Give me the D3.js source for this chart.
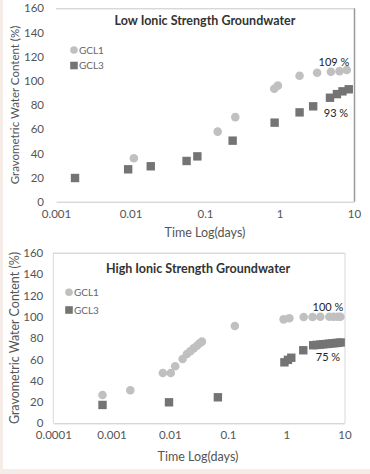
<!DOCTYPE html>
<html><head><meta charset="utf-8">
<script src="https://cdn.jsdelivr.net/npm/d3@7"></script>
<style>
html,body{margin:0;padding:0;background:#f5ece8;}
svg{display:block;}
text{font-family:Lato,"Open Sans",sans-serif;}
</style></head>
<body>
<svg id="c" width="370" height="474"></svg>
<script>
// ---- Data: Low ionic strength ----
const lowGCL1Days = [0.0111, 0.148, 0.255, 0.85, 0.95, 1.86, 3.2, 4.9, 6.4, 8.0];
const lowGCL1Wc   = [36, 58, 70, 93.5, 96, 104.2, 106.7, 107.5, 108, 108.9];
const lowGCL3Days = [0.0018, 0.0093, 0.0187, 0.0566, 0.079, 0.235, 0.86, 1.86, 2.83, 4.76, 5.9, 7.0, 8.5];
const lowGCL3Wc   = [19.6, 26.8, 29.3, 33.7, 37.5, 50.5, 65.4, 73.9, 78.9, 86, 89, 91.3, 93];
const lowTicks = [0.001, 0.01, 0.1, 1, 10];
const lowTickLabels = ["0.001", "0.01", "0.1", "1", "10"];

// ---- Data: High ionic strength ----
const highGCL1Days = [0.0007, 0.0021, 0.0076, 0.0104, 0.0124, 0.0166, 0.0197, 0.0225, 0.0257, 0.0292, 0.0325, 0.0356, 0.131, 0.9, 1.13, 1.99, 2.83, 3.84, 5.5, 6.5, 7.6, 8.5];
const highGCL1Wc   = [26.5, 31, 47.2, 47.2, 53.5, 60.3, 65, 67.5, 70.3, 72.8, 75, 76.6, 91.3, 97.5, 98.5, 99.7, 99.7, 100, 100, 100, 100, 100];
const highGCL3Days = [0.0007, 0.0097, 0.067, 0.93, 1.07, 1.22, 1.96, 2.9, 3.3, 3.8, 4.3, 4.9, 5.5, 6.2, 6.9, 7.7, 8.6];
const highGCL3Wc   = [17.2, 19.7, 24.4, 57.2, 59.5, 61.5, 68.5, 73.2, 73.5, 73.8, 74.1, 74.4, 74.7, 75, 75.2, 75.5, 75.8];
const highTicks = [0.0001, 0.001, 0.01, 0.1, 1, 10];
const highTickLabels = ["0.0001", "0.001", "0.01", "0.1", "1", "10"];

const yTicks = [0, 20, 40, 60, 80, 100, 120, 140, 160];
const seriesNames = ["GCL1", "GCL3"];
const titles = ["Low Ionic Strength Groundwater", "High Ionic Strength Groundwater"];
const yTitle = "Gravometric Water Content  (%)";
const xTitle = "Time Log(days)";
const annotLow = ["109 %", "93 %"];
const annotHigh = ["100 %", "75 %"];

const svg = d3.select("#c");
svg.append("rect").attr("x", 3).attr("y", 0).attr("width", 367).attr("height", 469).attr("fill", "#fff");

const C1 = "#c0c0c0", C3 = "#747474";
const FONT = "Lato,'Open Sans',sans-serif";

function panel(o) {
  const g = svg.append("g");
  const x = d3.scaleLog().domain(o.xDomain).range([o.x0, o.x1]);
  const y = d3.scaleLinear().domain([0, 160]).range([o.y0, o.y1]);
  // frame
  if (o.leftBorder) g.append("line").attr("x1", o.x0).attr("x2", o.x0).attr("y1", o.y0).attr("y2", o.y1).attr("stroke", "#d9d9d9");
  g.append("line").attr("x1", o.x0).attr("x2", o.x1).attr("y1", o.y1 + 0.5).attr("y2", o.y1 + 0.5).attr("stroke", "#c8c8c8");
  g.append("line").attr("x1", o.x1 + 0.5).attr("x2", o.x1 + 0.5).attr("y1", o.y1).attr("y2", o.y0).attr("stroke", o.rightColor).attr("stroke-width", o.rightW);
  // x axis
  const xa = g.append("g").attr("transform", `translate(0,${o.y0})`)
    .call(d3.axisBottom(x).tickValues(o.ticks).tickFormat((d, i) => o.tickLabels[i]).tickSize(0).tickPadding(8));
  xa.select(".domain").attr("stroke", "#c8c8c8");
  xa.selectAll("text").attr("font-size", 11.5).attr("fill", "#555").attr("font-family", FONT);
  // y axis
  const ya = g.append("g").attr("transform", `translate(${o.x0},0)`)
    .call(d3.axisLeft(y).tickValues(yTicks).tickSize(0).tickPadding(o.yPad));
  ya.select(".domain").remove();
  ya.selectAll("text").attr("font-size", 11.5).attr("fill", "#555").attr("font-family", FONT);
  // titles
  g.append("text").attr("x", o.titleX).attr("y", o.titleY).attr("text-anchor", "middle")
    .attr("font-size", 12.5).attr("font-weight", "bold").attr("fill", "#333").text(o.title);
  g.append("text").attr("x", o.xTitleX).attr("y", o.xTitleY).attr("text-anchor", "middle")
    .attr("font-size", 12.5).attr("fill", "#555").text(xTitle);
  g.append("text").attr("transform", `translate(${o.yTitleX},${o.yTitleY}) rotate(-90)`)
    .attr("text-anchor", "middle").attr("font-size", o.yTitleSize).attr("fill", "#555").text(yTitle);
  // data
  const s = 8.4;
  g.selectAll(".sq").data(o.d3x.map((d, i) => [d, o.d3y[i]])).enter().append("rect")
    .attr("x", d => x(d[0]) - s / 2).attr("y", d => y(d[1]) - s / 2).attr("width", s).attr("height", s).attr("fill", C3);
  g.selectAll(".ci").data(o.d1x.map((d, i) => [d, o.d1y[i]])).enter().append("circle")
    .attr("cx", d => x(d[0])).attr("cy", d => y(d[1])).attr("r", 4.3).attr("fill", C1);
  // legend
  g.append("circle").attr("cx", o.legX).attr("cy", o.legY1).attr("r", 3.8).attr("fill", C1);
  g.append("rect").attr("x", o.legX - 3.8).attr("y", o.legY2 - 3.8).attr("width", 7.6).attr("height", 7.6).attr("fill", C3);
  g.append("text").attr("x", o.legX + 5).attr("y", o.legY1 + 3.6).attr("font-size", 10).attr("fill", "#666").text(seriesNames[0]);
  g.append("text").attr("x", o.legX + 5).attr("y", o.legY2 + 3.6).attr("font-size", 10).attr("fill", "#666").text(seriesNames[1]);
  // annotations
  g.append("text").attr("x", o.a1[0]).attr("y", o.a1[1]).attr("text-anchor", "middle").attr("font-size", 11).attr("fill", "#222").text(o.ann[0]);
  g.append("text").attr("x", o.a2[0]).attr("y", o.a2[1]).attr("text-anchor", "middle").attr("font-size", 11).attr("fill", "#222").text(o.ann[1]);
}

panel({
  xDomain: [0.001, 10], x0: 56, x1: 354, y0: 201.7, y1: 8.3,
  ticks: lowTicks, tickLabels: lowTickLabels, yPad: 12,
  leftBorder: false, rightColor: "#999", rightW: 1.5,
  title: titles[0], titleX: 205, titleY: 24.5, xTitleX: 205, xTitleY: 236.5, yTitleX: 19, yTitleY: 105, yTitleSize: 11.5,
  d1x: lowGCL1Days, d1y: lowGCL1Wc, d3x: lowGCL3Days, d3y: lowGCL3Wc,
  legX: 74, legY1: 50, legY2: 65.5,
  ann: annotLow, a1: [334, 66], a2: [336, 116.5]
});
panel({
  xDomain: [0.0001, 10], x0: 53.3, x1: 344.5, y0: 423.3, y1: 252.7,
  ticks: highTicks, tickLabels: highTickLabels, yPad: 10,
  leftBorder: true, rightColor: "#d9d9d9", rightW: 1,
  title: titles[1], titleX: 198, titleY: 272.5, xTitleX: 198, xTitleY: 461, yTitleX: 19, yTitleY: 338, yTitleSize: 12.5,
  d1x: highGCL1Days, d1y: highGCL1Wc, d3x: highGCL3Days, d3y: highGCL3Wc,
  legX: 69, legY1: 292.3, legY2: 310,
  ann: annotHigh, a1: [328, 311], a2: [328, 361]
});
</script>
</body></html>
